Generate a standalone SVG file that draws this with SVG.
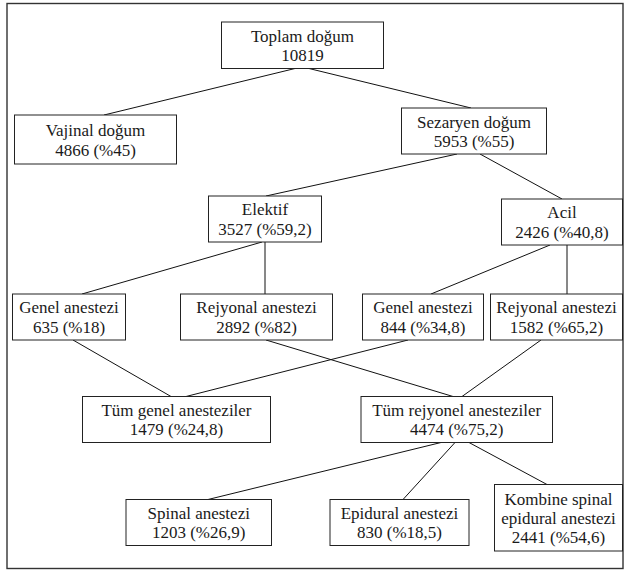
<svg xmlns="http://www.w3.org/2000/svg" width="624" height="570" viewBox="0 0 624 570">
<style>
.frame{fill:#fff;stroke:#333;stroke-width:1.4}
.box{fill:#fff;stroke:#222;stroke-width:1}
.c line{stroke:#111;stroke-width:1}
text{font-family:'Liberation Serif','Times New Roman',serif;font-size:17px;fill:#1a1a1a;text-anchor:middle}
</style>
<rect class="frame" x="7" y="3.5" width="616" height="565"/>
<g class="c" id="connectors">
<line x1="295" y1="68.5" x2="104" y2="115"/>
<line x1="309" y1="68.5" x2="471" y2="108"/>
<line x1="457" y1="154" x2="266" y2="196"/>
<line x1="480" y1="154" x2="562" y2="199"/>
<line x1="262" y1="242" x2="82" y2="294"/>
<line x1="265" y1="242" x2="265" y2="294"/>
<line x1="550" y1="245" x2="431" y2="294"/>
<line x1="567" y1="245" x2="567" y2="294"/>
<line x1="73" y1="340" x2="171" y2="396.5"/>
<line x1="408" y1="340" x2="186" y2="396.5"/>
<line x1="266" y1="340" x2="453" y2="396.5"/>
<line x1="541" y1="340" x2="462" y2="396.5"/>
<line x1="441" y1="442.5" x2="208" y2="499.5"/>
<line x1="455" y1="442.5" x2="403" y2="499.5"/>
<line x1="469" y1="442.5" x2="547" y2="484.5"/>
</g>
<g id="toplam"><rect class="box" x="221.5" y="22" width="162" height="46.5"/><text x="302.5" y="41.5">Toplam doğum</text><text x="302.5" y="61">10819</text></g>
<g id="vajinal"><rect class="box" x="14.5" y="115" width="162" height="49"/><text x="95.5" y="136">Vajinal doğum</text><text x="95.5" y="155.5">4866 (%45)</text></g>
<g id="sezaryen"><rect class="box" x="401.5" y="108" width="145" height="46"/><text x="474" y="127.5">Sezaryen doğum</text><text x="474" y="147">5953 (%55)</text></g>
<g id="elektif"><rect class="box" x="208.5" y="196" width="113" height="46"/><text x="265" y="215">Elektif</text><text x="265" y="234.5">3527 (%59,2)</text></g>
<g id="acil"><rect class="box" x="501.5" y="199" width="121" height="46"/><text x="562" y="218">Acil</text><text x="562" y="237.5">2426 (%40,8)</text></g>
<g id="genel1"><rect class="box" x="12.5" y="294" width="113" height="46"/><text x="69" y="313">Genel anestezi</text><text x="69" y="332.5">635 (%18)</text></g>
<g id="rejyonal1"><rect class="box" x="180.5" y="294" width="152" height="46"/><text x="256.5" y="313">Rejyonal anestezi</text><text x="256.5" y="332.5">2892 (%82)</text></g>
<g id="genel2"><rect class="box" x="362.5" y="294" width="121" height="46"/><text x="423" y="313">Genel anestezi</text><text x="423" y="332.5">844 (%34,8)</text></g>
<g id="rejyonal2"><rect class="box" x="490.5" y="294" width="132" height="46"/><text x="556.5" y="313">Rejyonal anestezi</text><text x="556.5" y="332.5">1582 (%65,2)</text></g>
<g id="tumgenel"><rect class="box" x="82.5" y="396.5" width="188" height="46"/><text x="176.5" y="416">Tüm genel anesteziler</text><text x="176.5" y="435">1479 (%24,8)</text></g>
<g id="tumrejyonel"><rect class="box" x="361" y="396.5" width="191.5" height="46"/><text x="456.7" y="416">Tüm rejyonel anesteziler</text><text x="456.7" y="435">4474 (%75,2)</text></g>
<g id="spinal"><rect class="box" x="126" y="499.5" width="145.5" height="46"/><text x="198.7" y="519">Spinal anestezi</text><text x="198.7" y="538">1203 (%26,9)</text></g>
<g id="epidural"><rect class="box" x="330" y="499.5" width="139" height="46"/><text x="399.5" y="519">Epidural anestezi</text><text x="399.5" y="538">830 (%18,5)</text></g>
<g id="kombine"><rect class="box" x="494.5" y="484.5" width="128" height="66.5"/><text x="558.5" y="504.5">Kombine spinal</text><text x="558.5" y="523.5">epidural anestezi</text><text x="558.5" y="542.5">2441 (%54,6)</text></g>
</svg>
